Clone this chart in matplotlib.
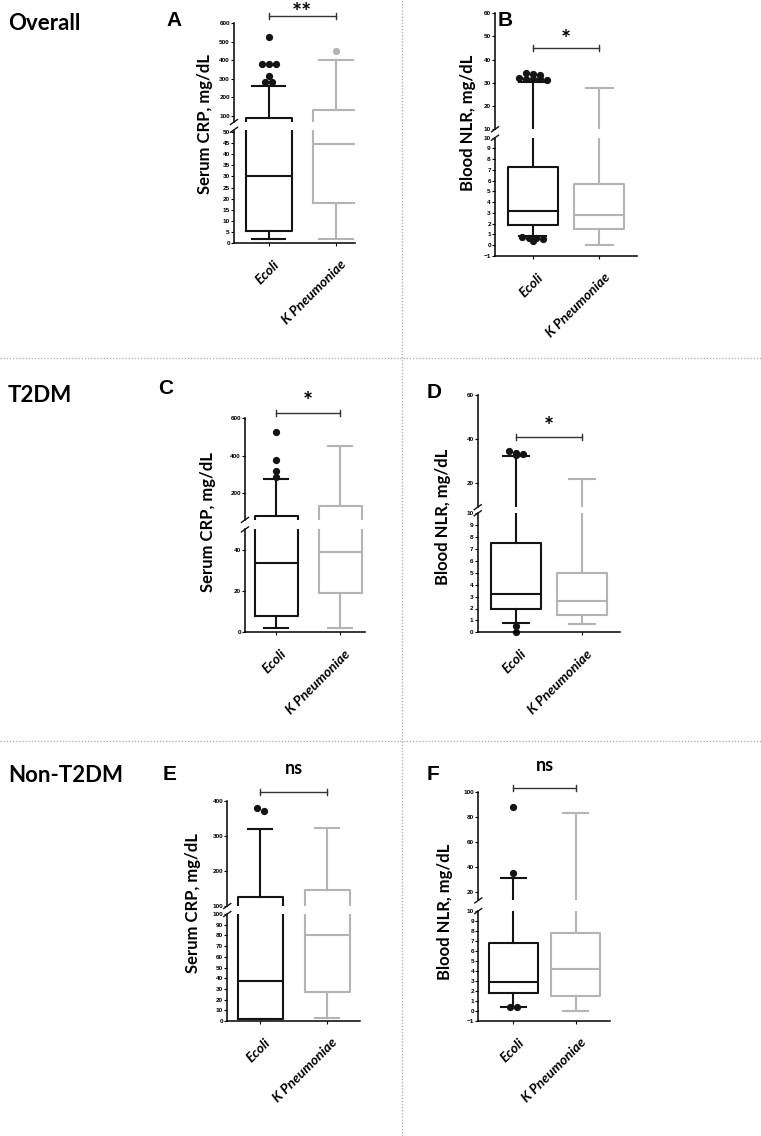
import matplotlib
matplotlib.use('Agg')
import matplotlib.pyplot as plt
from matplotlib.lines import Line2D

W, H = 761, 1136
DPI = 100

BLACK = '#141414'
GRAY = '#b4b4b4'
LW = 1.5
SANS = ['Lato', 'DejaVu Sans']
ARIAL = ['Liberation Sans', 'DejaVu Sans']

groups = ['Ecoli', 'K Pneumoniae']

# box stats: whisker low, Q1, median, Q3, whisker high
crp_all_ecoli = [2, 5.5, 30, 89, 260]
crp_all_kpn = [2, 18, 44.5, 132, 400]
crp_all_ecoli_out = [285, 285, 315, 380, 380, 380, 527]
crp_all_kpn_out = [452]

nlr_all_ecoli = [0.85, 1.9, 3.2, 7.3, 30.5]
nlr_all_kpn = [0, 1.5, 2.85, 5.7, 28]
nlr_all_ecoli_out = [0.4, 0.55, 0.7, 0.7, 0.75,
                     31.2, 31.5, 31.5, 31.8, 32, 33.5, 34, 34.2]
nlr_all_kpn_out = []

crp_t2dm_ecoli = [2, 8, 33.5, 81, 278]
crp_t2dm_kpn = [2, 19, 39, 132, 452]
crp_t2dm_ecoli_out = [288, 318, 378, 527]
crp_t2dm_kpn_out = []

nlr_t2dm_ecoli = [0.8, 1.93, 3.2, 7.5, 32.3]
nlr_t2dm_kpn = [0.67, 1.45, 2.66, 5.0, 21.8]
nlr_t2dm_ecoli_out = [0.0, 0.5, 32.9, 33.1, 33.8, 34.4]
nlr_t2dm_kpn_out = []

crp_non_ecoli = [2, 2, 37, 126, 320]
crp_non_kpn = [3, 27, 80, 146, 322]
crp_non_ecoli_out = [370, 378]
crp_non_kpn_out = []

nlr_non_ecoli = [0.4, 1.75, 2.85, 6.75, 31.3]
nlr_non_kpn = [0.0, 1.5, 4.15, 7.75, 83]
nlr_non_ecoli_out = [0.4, 0.4, 34.8, 88.4]
nlr_non_kpn_out = []

significance = {'A': '**', 'B': '*', 'C': '*', 'D': '*', 'E': 'ns', 'F': 'ns'}

# layout of every panel in pixels (y measured from the top of the figure)
# sig_y is the text baseline
PANELS = {
    'A': dict(left=234, right=355, centres=(268.7, 336), box=46, cap=0.72,
              upper=dict(lim=(68, 600), px=(122, 23), ticks=range(100, 601, 100)),
              lower=dict(lim=(0, 51), px=(243, 129.8), ticks=range(0, 51, 5)),
              letter=(174, 20), ylab=(205, 124), bracket=16, sig_y=21),
    'B': dict(left=495, right=637, centres=(532.7, 599.3), box=50, cap=0.55,
              upper=dict(lim=(10, 60), px=(129.3, 13.3), ticks=range(10, 61, 10)),
              lower=dict(lim=(-1, 10), px=(256, 137.7), ticks=range(-1, 11)),
              letter=(505, 20), ylab=(468, 123), bracket=48.3, sig_y=48),
    'C': dict(left=245, right=365, centres=(276, 340), box=43, cap=0.55,
              upper=dict(lim=(58, 600), px=(519.9, 418.3), ticks=range(200, 601, 200)),
              lower=dict(lim=(0, 50), px=(632.3, 529.4), ticks=range(0, 41, 20)),
              letter=(166, 388), ylab=(208, 522), bracket=413.3, sig_y=410),
    'D': dict(left=477.7, right=620, centres=(516, 582), box=50, cap=0.52,
              upper=dict(lim=(9, 60), px=(507.2, 395), ticks=range(20, 61, 20)),
              lower=dict(lim=(0, 10), px=(632.3, 513.3), ticks=range(0, 11)),
              letter=(434, 392), ylab=(443, 517), bracket=436.7, sig_y=435),
    'E': dict(left=227.3, right=360, centres=(260, 327), box=45, cap=0.55,
              upper=dict(lim=(100, 400), px=(906, 800.7), ticks=range(100, 401, 100)),
              lower=dict(lim=(0, 100), px=(1021, 914), ticks=range(0, 101, 10)),
              letter=(170, 774), ylab=(193, 903), bracket=792.3, sig_y=774),
    'F': dict(left=478.3, right=610, centres=(513.3, 575.7), box=49, cap=0.5,
              upper=dict(lim=(13, 100), px=(900.4, 792.3), ticks=range(20, 101, 20)),
              lower=dict(lim=(-1, 10), px=(1020.7, 911), ticks=range(-1, 11)),
              letter=(433, 775), ylab=(445, 912), bracket=788.3, sig_y=771),
}


def fx(px):
    return px / W


def fy(py):
    return 1 - py / H


def value_to_px(cfg, v):
    for part in ('lower', 'upper'):
        lo, hi = cfg[part]['lim']
        b, t = cfg[part]['px']
        if lo <= v <= hi:
            return part, b - (v - lo) / (hi - lo) * (b - t)
    return None, None


def spread(cfg, values, thr=3.0, step=7.0):
    # put dots that would overlap side by side, like Prism does
    pts = sorted((value_to_px(cfg, v)[1], v) for v in values)
    groups_, cur = [], []
    for p in pts:
        if cur and abs(p[0] - cur[0][0]) > thr:
            groups_.append(cur)
            cur = []
        cur.append(p)
    if cur:
        groups_.append(cur)
    out = []
    for g in groups_:
        n = len(g)
        for i, (_, v) in enumerate(g):
            out.append((v, (i - (n - 1) / 2) * step))
    return out


def draw_panel(fig, key, stats, outliers, ylabel):
    cfg = PANELS[key]
    c1, c2 = cfg['centres']
    s = c2 - c1
    x0 = 1 - (c1 - cfg['left']) / s
    x1 = x0 + (cfg['right'] - cfg['left']) / s
    box_w = cfg['box'] / s
    colors = [BLACK, GRAY]
    axes = {}
    for part in ('upper', 'lower'):
        seg = cfg[part]
        b, t = seg['px']
        ax = fig.add_axes([fx(cfg['left']), fy(b), (cfg['right'] - cfg['left']) / W, (b - t) / H])
        ax.set_xlim(x0, x1)
        ax.set_ylim(*seg['lim'])
        ax.patch.set_alpha(0)
        for sp in ('top', 'right'):
            ax.spines[sp].set_visible(False)
        ax.spines['left'].set_linewidth(1.1)
        ax.spines['bottom'].set_linewidth(1.1)
        ax.set_yticks(list(seg['ticks']))
        ax.tick_params(axis='y', length=2.2, width=0.8, pad=0.8, labelsize=4.6)
        for lab in ax.get_yticklabels():
            lab.set_fontfamily(ARIAL)
            lab.set_fontweight('bold')
        if part == 'upper':
            ax.spines['bottom'].set_visible(False)
            ax.set_xticks([])
        else:
            ax.set_xticks([1, 2])
            ax.set_xticklabels([])
            ax.tick_params(axis='x', length=2.5, width=0.8)
            for i, name in enumerate(groups):
                ax.annotate(name, xy=(i + 1, 0), xycoords=('data', 'axes fraction'),
                            xytext=(3, -11), textcoords='offset points', rotation=45,
                            ha='right', va='top', rotation_mode='anchor', fontsize=10,
                            fontweight='bold', fontstyle='italic', family=SANS)
        for i, (st, col) in enumerate(zip(stats, colors)):
            d = dict(whislo=st[0], q1=st[1], med=st[2], q3=st[3], whishi=st[4], fliers=[])
            lp = dict(color=col, lw=LW)
            ax.bxp([d], positions=[i + 1], widths=box_w, capwidths=box_w * cfg['cap'],
                   showfliers=False, boxprops=lp, whiskerprops=lp, capprops=lp,
                   medianprops=lp, manage_ticks=False)
        axes[part] = ax

    for i, (vals, col) in enumerate(zip(outliers, colors)):
        for v, off in spread(cfg, vals):
            part, _ = value_to_px(cfg, v)
            axes[part].plot(i + 1 + off / s, v, 'o', color=col, ms=4.2, mec=col,
                            clip_on=False)

    # axis break marks
    left = cfg['left']
    for py in (cfg['upper']['px'][0], cfg['lower']['px'][1]):
        fig.add_artist(Line2D([fx(left - 3.5), fx(left + 3.5)], [fy(py + 2.5), fy(py - 2.5)],
                              color=BLACK, lw=1.0, transform=fig.transFigure))

    # significance bracket
    yb = cfg['bracket']
    fig.add_artist(Line2D([fx(c1), fx(c2)], [fy(yb), fy(yb)], color='#333333', lw=1.0,
                          transform=fig.transFigure))
    for cx in (c1, c2):
        fig.add_artist(Line2D([fx(cx), fx(cx)], [fy(yb - 3), fy(yb + 3)], color='#333333',
                              lw=1.0, transform=fig.transFigure))
    sig = significance[key]
    fig.text(fx((c1 + c2) / 2), fy(cfg['sig_y']), sig, ha='center', va='baseline',
             fontsize=17 if '*' in sig else 13, fontweight='bold', family=SANS)

    lx, ly = cfg['letter']
    fig.text(fx(lx), fy(ly), key, ha='center', va='center', fontsize=15,
             fontweight='bold', family=ARIAL)
    yx, yy = cfg['ylab']
    fig.text(fx(yx), fy(yy), ylabel, rotation=90, ha='center', va='center', fontsize=12,
             fontweight='bold', family=SANS)


fig = plt.figure(figsize=(W / DPI, H / DPI), dpi=DPI, facecolor='white')

draw_panel(fig, 'A', [crp_all_ecoli, crp_all_kpn], [crp_all_ecoli_out, crp_all_kpn_out],
           'Serum CRP, mg/dL')
draw_panel(fig, 'B', [nlr_all_ecoli, nlr_all_kpn], [nlr_all_ecoli_out, nlr_all_kpn_out],
           'Blood NLR, mg/dL')
draw_panel(fig, 'C', [crp_t2dm_ecoli, crp_t2dm_kpn], [crp_t2dm_ecoli_out, crp_t2dm_kpn_out],
           'Serum CRP, mg/dL')
draw_panel(fig, 'D', [nlr_t2dm_ecoli, nlr_t2dm_kpn], [nlr_t2dm_ecoli_out, nlr_t2dm_kpn_out],
           'Blood NLR, mg/dL')
draw_panel(fig, 'E', [crp_non_ecoli, crp_non_kpn], [crp_non_ecoli_out, crp_non_kpn_out],
           'Serum CRP, mg/dL')
draw_panel(fig, 'F', [nlr_non_ecoli, nlr_non_kpn], [nlr_non_ecoli_out, nlr_non_kpn_out],
           'Blood NLR, mg/dL')

# row titles
for title, py in (('Overall', 24), ('T2DM', 396), ('Non-T2DM', 775)):
    fig.text(fx(8), fy(py), title, ha='left', va='center', fontsize=16,
             fontweight='bold', family=SANS)

# dotted separators
sep = dict(color='#a8a8a8', lw=0.9, linestyle=(0, (1, 1.5)), transform=fig.transFigure)
fig.add_artist(Line2D([fx(402), fx(402)], [0, 1], **sep))
for py in (358, 741):
    fig.add_artist(Line2D([0, 1], [fy(py), fy(py)], **sep))

fig.savefig('out.png', dpi=DPI, facecolor='white')
